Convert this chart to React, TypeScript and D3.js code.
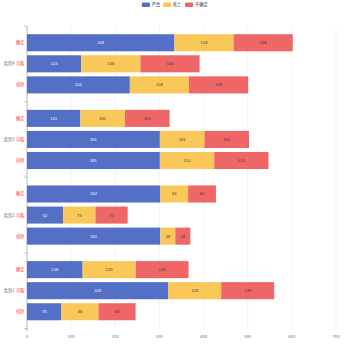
import React from "react";
import * as d3 from "d3";

const groups = ["类别4", "类别3", "类别2", "类别1"];
const subs = ["确定", "可能", "排除"];
const seriesNames = ["严重", "死亡", "不确定"];
const colors = ["#5470c6", "#fac858", "#ee6666"];
// values per group, per sub: [严重, 死亡, 不确定]
const cat4 = [[334, 134, 134], [123, 134, 134], [233, 134, 134]];
const cat3 = [[121, 101, 101], [301, 101, 101], [301, 123, 123]];
const cat2 = [[302, 63, 63], [82, 73, 73], [302, 34, 34]];
const cat1 = [[126, 120, 120], [320, 120, 120], [78, 84, 84]];
const groupData = [cat4, cat3, cat2, cat1];
const xTicks = [0, 100, 200, 300, 400, 500, 600, 700];

export default function App() {
  const W = 350, H = 350;
  const x = d3.scaleLinear().domain([0, 700]).range([27, 336]);
  const yG = d3.scaleBand().domain(groups).range([26, 328.5]);
  const bw = yG.bandwidth();
  const yS = d3.scaleBand().domain(subs).range([0, bw]).paddingInner(4 / 21).paddingOuter(0.39);
  const font = "'Noto Sans CJK SC', sans-serif";
  const fs = 4.2;
  const legendX = [141.7, 163, 185];
  return (
    <svg width={W} height={H} style={{ position: "absolute", left: 0, top: 0, fontFamily: font }}>
      <rect width={W} height={H} fill="#fff" />
      {/* legend */}
      {seriesNames.map((n, i) => (
        <g key={n}>
          <rect x={legendX[i]} y={2.5} width={8.3} height={4.5} rx={1.2} fill={colors[i]} />
          <text x={legendX[i] + 10} y={6.3} fontSize={fs} fill="#333">{n}</text>
        </g>
      ))}
      {/* split lines */}
      {xTicks.slice(1).map((t) => (
        <line key={t} x1={x(t)} x2={x(t)} y1={26} y2={328.5} stroke="#E0E6F1" strokeWidth={0.5} />
      ))}
      {/* bars */}
      {groups.map((g, gi) =>
        subs.map((s, si) => {
          const vals = groupData[gi][si];
          const y0 = (yG(g) as number) + (yS(s) as number);
          const h = yS.bandwidth();
          let acc = 0;
          return vals.map((v, k) => {
            const a = acc;
            acc += v;
            const x0 = x(a), x1 = x(a + v);
            return (
              <g key={g + s + k}>
                <rect x={x0} y={y0} width={x1 - x0} height={h} fill={colors[k]} />
                <text x={(x0 + x1) / 2} y={y0 + h / 2 + 1.5} fontSize={fs} textAnchor="middle"
                  fill={k === 0 ? "#fff" : "#333"}>{v}</text>
              </g>
            );
          });
        })
      )}
      {/* y axis */}
      <line x1={27} x2={27} y1={26} y2={328.5} stroke="#6e7079" strokeWidth={0.5} />
      {[...groups.map((g) => yG(g) as number), 328.5].map((t, i) => (
        <line key={i} x1={24.5} x2={27} y1={t} y2={t} stroke="#6e7079" strokeWidth={0.5} />
      ))}
      {groups.map((g) =>
        subs.map((s) => (
          <text key={g + s} x={24.5} y={(yG(g) as number) + (yS(s) as number) + yS.bandwidth() / 2 + 1.5}
            fontSize={fs} textAnchor="end" fill="#ff3333">{s}</text>
        ))
      )}
      {groups.map((g) => (
        <text key={g} x={14.5} y={(yG(g) as number) + (yS("可能") as number) + yS.bandwidth() / 2 + 1.5}
          fontSize={fs} textAnchor="end" fill="#6e7079">{g}</text>
      ))}
      {/* x axis labels */}
      {xTicks.map((t) => (
        <text key={t} x={x(t)} y={337.5} fontSize={fs} textAnchor="middle" fill="#6e7079">{t}</text>
      ))}
      <line x1={27} x2={27} y1={328.5} y2={331} stroke="#6e7079" strokeWidth={0.5} />
    </svg>
  );
}
